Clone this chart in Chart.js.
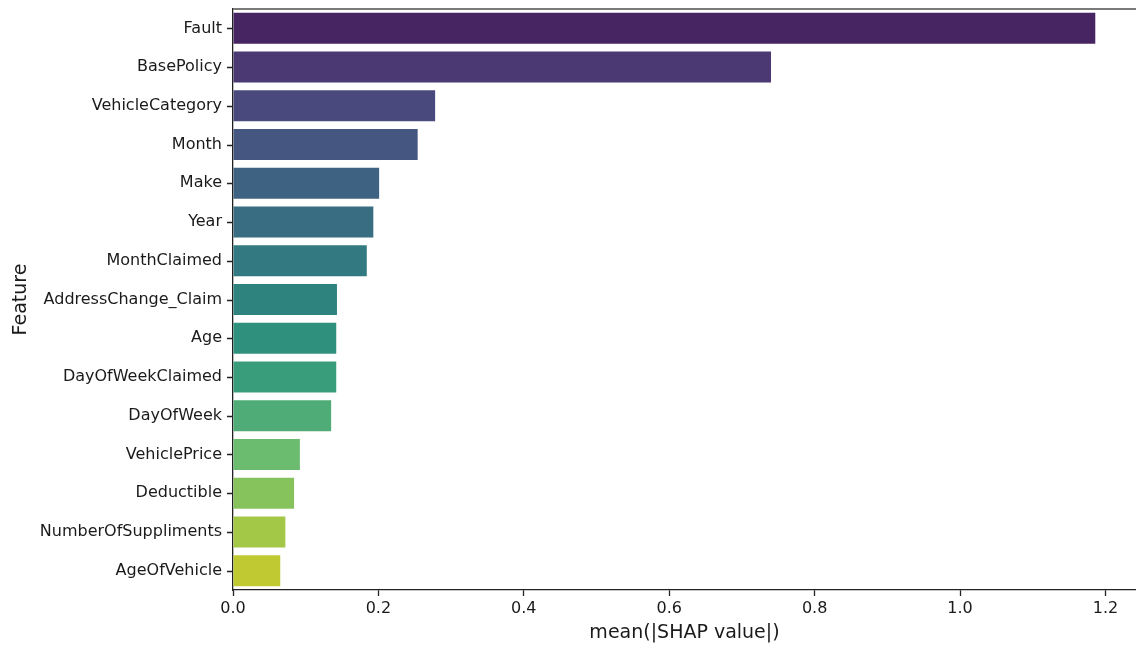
<!DOCTYPE html>
<html>
<head>
<meta charset="utf-8">
<script src="https://cdn.jsdelivr.net/npm/chart.js@4"></script>
<style>
  html, body { margin: 0; padding: 0; background: #fff; }
  #wrap { width: 1136px; height: 646px; }
</style>
</head>
<body>
<div id="wrap"><canvas id="c" width="1136" height="646"></canvas></div>
<script>
// Mean absolute SHAP value per feature
const features = [
  'Fault', 'BasePolicy', 'VehicleCategory', 'Month', 'Make', 'Year',
  'MonthClaimed', 'AddressChange_Claim', 'Age', 'DayOfWeekClaimed',
  'DayOfWeek', 'VehiclePrice', 'Deductible', 'NumberOfSuppliments', 'AgeOfVehicle'
];
const meanAbsShap = [
  1.186, 0.740, 0.278, 0.254, 0.201, 0.193,
  0.184, 0.143, 0.142, 0.142,
  0.135, 0.092, 0.084, 0.072, 0.065
];
const xTicks = [0.0, 0.2, 0.4, 0.6, 0.8, 1.0, 1.2];

// viridis palette, one colour per feature
const viridis = [
  '#481a6c', '#472f7d', '#424086', '#3b528b', '#33638d',
  '#2c728e', '#25838e', '#21918c', '#1fa088', '#28ae80',
  '#3fbc73', '#5ec962', '#84d44b', '#addc30', '#d8e219'
];

// soften colours the way a bar plot with saturation 0.75 does
function desaturate(hex, f) {
  const r = parseInt(hex.slice(1, 3), 16);
  const g = parseInt(hex.slice(3, 5), 16);
  const b = parseInt(hex.slice(5, 7), 16);
  const mid = (Math.max(r, g, b) + Math.min(r, g, b)) / 2;
  const c = v => Math.round(mid + (v - mid) * f);
  return `rgb(${c(r)},${c(g)},${c(b)})`;
}
const barColors = viridis.map(h => desaturate(h, 0.75));

const FONT = 'DejaVu Sans';
const TEXT = '#1a1a1a';
const TICK_LEN = 6;

// gray frame line along the top, plus outward tick marks at each feature
const frame = {
  id: 'frame',
  afterDraw(chart) {
    const { ctx, chartArea } = chart;
    const y = chart.scales.y;
    ctx.save();
    ctx.strokeStyle = '#7a7a7a';
    ctx.lineWidth = 2;
    ctx.beginPath();
    ctx.moveTo(chartArea.left, chartArea.top);
    ctx.lineTo(chart.width, chartArea.top);
    ctx.stroke();

    ctx.strokeStyle = '#222';
    ctx.lineWidth = 1.3;
    ctx.beginPath();
    y.ticks.forEach((t, i) => {
      const py = Math.round(y.getPixelForTick(i)) + 0.5;
      ctx.moveTo(chartArea.left - TICK_LEN, py);
      ctx.lineTo(chartArea.left, py);
    });
    ctx.stroke();
    ctx.restore();
  }
};

new Chart(document.getElementById('c'), {
  type: 'bar',
  data: {
    labels: features,
    datasets: [{
      data: meanAbsShap,
      backgroundColor: barColors,
      borderWidth: 0,
      barPercentage: 0.8,
      categoryPercentage: 1.0
    }]
  },
  options: {
    indexAxis: 'y',
    responsive: false,
    animation: false,
    layout: { padding: { top: 9, left: 0, right: 0, bottom: 0 } },
    plugins: {
      legend: { display: false },
      tooltip: { enabled: false }
    },
    scales: {
      x: {
        type: 'linear',
        min: 0,
        max: 1.242,
        afterBuildTicks(scale) {
          scale.ticks = xTicks.map(v => ({ value: v }));
        },
        afterFit(scale) {
          scale.height = 56;
          scale.paddingLeft = 0;
          scale.paddingRight = 0;
        },
        ticks: {
          font: { family: FONT, size: 16 },
          color: TEXT,
          padding: 3,
          maxRotation: 0,
          callback: v => Number(v).toFixed(1)
        },
        grid: {
          drawOnChartArea: false,
          drawTicks: true,
          tickLength: TICK_LEN,
          tickWidth: 1.3,
          color: '#222',
          tickColor: '#222'
        },
        border: { display: true, color: '#222', width: 1.3 },
        title: {
          display: true,
          text: 'mean(|SHAP value|)',
          font: { family: FONT, size: 19 },
          color: TEXT,
          padding: { top: 0, bottom: 2 }
        }
      },
      y: {
        type: 'category',
        offset: true,
        afterFit(scale) {
          scale.width = 233;
          scale.paddingTop = 0;
          scale.paddingBottom = 0;
        },
        ticks: {
          font: { family: FONT, size: 16 },
          color: TEXT,
          padding: 5
        },
        grid: {
          display: false,
          tickLength: TICK_LEN
        },
        border: { display: true, color: '#222', width: 1.3 },
        title: {
          display: true,
          text: 'Feature',
          font: { family: FONT, size: 19 },
          color: TEXT,
          padding: { top: 10, bottom: 0 }
        }
      }
    }
  },
  plugins: [frame]
});
</script>
</body>
</html>
